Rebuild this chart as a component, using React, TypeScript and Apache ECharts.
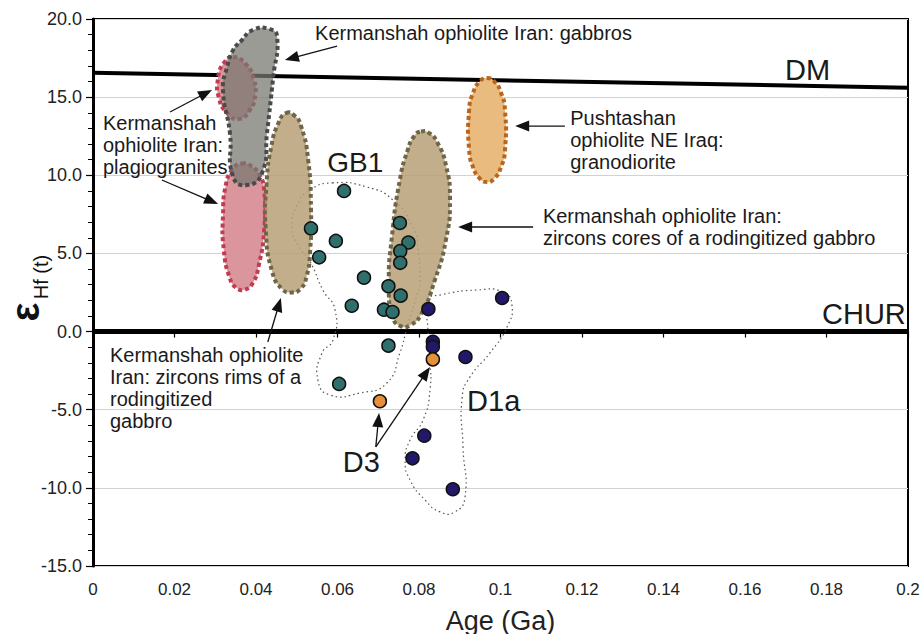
import React, { useEffect, useRef } from 'react';
import * as echarts from 'echarts';

// ---------- data (Age in Ga, epsilon Hf(t)) ----------
const gb1Points = [
  [0.0616, 9.0], [0.0535, 6.6], [0.0596, 5.8], [0.0555, 4.75], [0.0665, 3.45],
  [0.0635, 1.65], [0.0725, 2.9], [0.0753, 6.95], [0.0774, 5.7], [0.0754, 5.15],
  [0.0754, 4.4], [0.0755, 2.3], [0.0714, 1.4], [0.0735, 1.25], [0.0725, -0.9],
  [0.0604, -3.35],
];
const d1aPoints = [
  [0.0823, 1.44], [0.1004, 2.15], [0.0834, -0.65], [0.0834, -0.97], [0.0914, -1.63],
  [0.0813, -6.66], [0.0784, -8.11], [0.0883, -10.09],
];
const d3Points = [[0.0834, -1.78], [0.0704, -4.46]];

const dmLine = [[0, 16.56], [0.2, 15.6]];
const churLine = [[0, 0], [0.2, 0]];

const gb1Outline = [
  [0.0587, 9.51], [0.0672, 9.25], [0.0736, 8.42], [0.0785, 6.69], [0.0798, 5.22],
  [0.0802, 3.11], [0.0795, 2.34], [0.0771, 0.29], [0.0753, -1.37], [0.0721, -3.29],
  [0.0655, -3.93], [0.0582, -4.06], [0.0552, -3.1], [0.0562, -1.37], [0.0589, -0.54],
  [0.0594, 1.38], [0.0564, 2.66], [0.0533, 4.45], [0.0503, 5.54], [0.0488, 6.69],
  [0.0501, 8.1], [0.0533, 9.06],
];
const d1aOutline = [
  [0.0822, 2.02], [0.0852, 2.34], [0.0942, 2.66], [0.1006, 2.53], [0.1028, 1.7],
  [0.1016, 0.29], [0.0974, -1.37], [0.0925, -2.91], [0.0906, -4.19], [0.0908, -7.38],
  [0.0913, -10.58], [0.0888, -11.54], [0.0852, -11.54], [0.0815, -10.78], [0.0778, -9.5],
  [0.0766, -8.22], [0.0778, -6.94], [0.081, -5.66], [0.0827, -3.74], [0.0827, -1.82],
  [0.0822, 0.1],
];
const plagioUpper = [
  [0.0344, 17.57], [0.0375, 17.12], [0.0395, 16.1], [0.0398, 15.14], [0.0385, 14.18],
  [0.0358, 13.6], [0.0329, 13.99], [0.0309, 14.95], [0.0307, 16.22], [0.0321, 17.18],
];
const plagioLower = [
  [0.0365, 10.75], [0.0388, 10.6], [0.0408, 10.05], [0.042, 9.06], [0.042, 6.5],
  [0.0407, 4.26], [0.0392, 3.1], [0.0372, 2.68], [0.0352, 2.8], [0.0336, 3.4],
  [0.0321, 5.22], [0.0319, 7.46], [0.0326, 9.38], [0.0343, 10.4],
];
const gabbros = [
  [0.0361, 18.53], [0.0393, 19.3], [0.0434, 19.35], [0.0452, 18.85], [0.0442, 16.23],
  [0.0427, 12.71], [0.0415, 10.15], [0.0378, 9.38], [0.0344, 9.89], [0.0336, 12.71],
  [0.0319, 15.46], [0.0329, 16.93], [0.0344, 18.02],
];
const zirconRims = [
  [0.0474, 13.98], [0.0493, 13.85], [0.051, 13.2], [0.0528, 10.98], [0.0535, 7.78],
  [0.0533, 5.22], [0.0524, 3.5], [0.0508, 2.7], [0.0488, 2.5], [0.0465, 2.7],
  [0.044, 3.8], [0.0424, 6.5], [0.0426, 9.5], [0.0438, 11.9], [0.0456, 13.4],
];
const zirconCores = [
  [0.0805, 12.8], [0.0825, 12.7], [0.0845, 12.1], [0.0866, 10.66], [0.0876, 8.42],
  [0.0866, 5.86], [0.0839, 3.3], [0.0805, 1.1], [0.0778, 0.4], [0.0755, 0.35],
  [0.0736, 0.9], [0.0726, 2.98], [0.0734, 6.18], [0.0753, 9.7], [0.0772, 11.6],
  [0.0788, 12.5],
];
const granodiorite = [
  [0.0967, 16.22], [0.0985, 16.0], [0.1001, 15.3], [0.1011, 14.18], [0.1011, 11.62],
  [0.1001, 10.5], [0.0985, 9.8], [0.0967, 9.57], [0.0949, 9.8], [0.0933, 10.5],
  [0.0923, 11.62], [0.0923, 14.18], [0.0933, 15.3], [0.0949, 16.0],
];

// annotation texts: [text, x, y, fontSize, verticalAlign]
const annotations: [string, number, number, number, string][] = [
  ['Kermanshah ophiolite Iran: gabbros', 0.0545, 19.1, 20, 'middle'],
  ['Kermanshah\nophiolite Iran:\nplagiogranites', 0.00245, 14.05, 20, 'top'],
  ['GB1', 0.0575, 10.79, 28, 'middle'],
  ['Pushtashan\nophiolite NE Iraq:\ngranodiorite', 0.1171, 14.37, 20, 'top'],
  ['Kermanshah ophiolite Iran:\nzircons cores of a rodingitized gabbro', 0.1104, 8.1, 20, 'top'],
  ['DM', 0.1698, 16.74, 29, 'middle'],
  ['CHUR', 0.1789, 1.12, 29, 'middle'],
  ['Kermanshah ophiolite\nIran: zircons rims of a\nrodingitized\ngabbro', 0.00417, -0.79, 20, 'top'],
  ['D1a', 0.0918, -4.44, 29, 'middle'],
  ['D3', 0.0613, -8.34, 29, 'middle'],
];
// arrows: [tailX, tailY, tipX, tipY]
const arrows = [
  [0.0599, 18.27, 0.0471, 17.38],
  [0.0189, 14.05, 0.0292, 15.46],
  [0.0169, 9.7, 0.0307, 8.16],
  [0.1158, 13.15, 0.1036, 13.15],
  [0.108, 6.69, 0.0896, 6.69],
  [0.0429, -0.67, 0.0461, 2.15],
  [0.0694, -7.38, 0.0702, -5.21],
  [0.0694, -7.38, 0.0827, -2.27],
];

const FONT = '"Liberation Sans", Arial, Helvetica, sans-serif';

type Shape = { pts: number[][]; fill: string; stroke: string; lw: number; dash: number[] };

const outlineShapes: Shape[] = [
  { pts: gb1Outline, fill: 'none', stroke: '#555', lw: 1.2, dash: [1.5, 3] },
  { pts: d1aOutline, fill: 'none', stroke: '#555', lw: 1.2, dash: [1.5, 3] },
];
const blobShapes: Shape[] = [
  { pts: plagioUpper, fill: 'rgb(218,150,156)', stroke: '#c23b52', lw: 4, dash: [4, 3] },
  { pts: plagioLower, fill: 'rgb(218,150,156)', stroke: '#c23b52', lw: 4, dash: [4, 3] },
  { pts: gabbros, fill: 'rgba(120,120,114,0.74)', stroke: '#4a4a4a', lw: 4, dash: [4, 3] },
  { pts: zirconRims, fill: 'rgba(184,160,120,0.85)', stroke: '#6f6548', lw: 4, dash: [4, 3] },
  { pts: zirconCores, fill: 'rgba(184,160,120,0.85)', stroke: '#6f6548', lw: 4, dash: [4, 3] },
  { pts: granodiorite, fill: 'rgb(233,187,126)', stroke: '#b8661c', lw: 4, dash: [4, 3] },
];

function shapeSeries(shapes: Shape[], z: number) {
  return {
    type: 'custom',
    z,
    silent: true,
    clip: false,
    data: shapes.map((s) => [s.pts[0][0], s.pts[0][1]]),
    renderItem: (params: any, api: any) => {
      const s = shapes[params.dataIndex];
      const points = s.pts.map((p) => api.coord(p));
      return {
        type: 'polygon',
        shape: { points, smooth: 0.55 },
        style: { fill: s.fill, stroke: s.stroke, lineWidth: s.lw, lineDash: s.dash, lineCap: 'butt' },
      };
    },
  };
}

function scatterSeries(data: number[][], color: string) {
  return {
    type: 'scatter',
    z: 10,
    data,
    symbolSize: 13,
    itemStyle: { color, borderColor: '#111', borderWidth: 1.5, opacity: 1 },
  };
}

export default function App() {
  const ref = useRef<HTMLDivElement>(null);
  useEffect(() => {
    if (!ref.current) return;
    const chart = echarts.init(ref.current, null, { renderer: 'svg' });
    chart.setOption({
      animation: false,
      backgroundColor: '#fff',
      grid: {
        left: 93, right: 14, top: 19, bottom: 68, show: true, borderColor: '#000', borderWidth: 2,
        containLabel: false, outerBoundsMode: 'none',
      },
      xAxis: {
        type: 'value', min: 0, max: 0.2, interval: 0.02,
        axisLine: { lineStyle: { color: '#000', width: 2 } },
        axisTick: { length: 6, lineStyle: { color: '#000', width: 1.2 } },
        axisLabel: {
          fontSize: 17, color: '#222', fontFamily: FONT, margin: 15,
          formatter: (v: number) => (v === 0 ? '0' : String(parseFloat(v.toFixed(2)))),
        },
        splitLine: { show: false },
        name: 'Age (Ga)', nameLocation: 'middle', nameGap: 41,
        nameTextStyle: { fontSize: 27, color: '#222', fontFamily: FONT },
      },
      yAxis: {
        type: 'value', min: -15, max: 20, interval: 5,
        axisLine: { lineStyle: { color: '#000', width: 3 } },
        axisTick: { length: 7, lineStyle: { color: '#000', width: 1.2 } },
        minorTick: { show: true, splitNumber: 5, length: 5, lineStyle: { color: '#000', width: 1 } },
        axisLabel: {
          fontSize: 18, color: '#222', fontFamily: FONT, margin: 11,
          formatter: (v: number) => v.toFixed(1),
        },
        splitLine: { show: true, lineStyle: { color: '#d2d2d2', width: 1 } },
      },
      series: [
        { type: 'line', data: dmLine, z: 3, symbol: 'none', silent: true, lineStyle: { color: '#000', width: 4 } },
        { type: 'line', data: churLine, z: 3, symbol: 'none', silent: true, lineStyle: { color: '#000', width: 5 } },
        shapeSeries(outlineShapes, 4),
        shapeSeries(blobShapes, 5),
        scatterSeries(gb1Points, '#2f706c'),
        scatterSeries(d1aPoints, '#22186a'),
        scatterSeries(d3Points, '#e4913a'),
      ],
    });

    const px = (x: number, y: number) => chart.convertToPixel({ gridIndex: 0 }, [x, y]) as number[];
    const graphic: any[] = [];
    annotations.forEach(([text, x, y, fs, va]) => {
      const p = px(x, y);
      graphic.push({
        type: 'text', x: p[0], y: p[1], z: 20, silent: true,
        style: {
          text, fontSize: fs, fontFamily: FONT, fill: '#1a1a1a',
          align: 'left', verticalAlign: va, lineHeight: 22,
        },
      });
    });
    arrows.forEach(([x1, y1, x2, y2]) => {
      const a = px(x1, y1);
      const b = px(x2, y2);
      const dx = b[0] - a[0];
      const dy = b[1] - a[1];
      const len = Math.hypot(dx, dy);
      const ux = dx / len;
      const uy = dy / len;
      const hl = 14;
      const hw = 5.5;
      const base = [b[0] - ux * hl, b[1] - uy * hl];
      graphic.push({
        type: 'line', z: 20, silent: true,
        shape: { x1: a[0], y1: a[1], x2: base[0] + ux * 2, y2: base[1] + uy * 2 },
        style: { stroke: '#111', lineWidth: 1.3 },
      });
      graphic.push({
        type: 'polygon', z: 20, silent: true,
        shape: {
          points: [
            [b[0], b[1]],
            [base[0] - uy * hw, base[1] + ux * hw],
            [base[0] + uy * hw, base[1] - ux * hw],
          ],
        },
        style: { fill: '#111' },
      });
    });
    // y-axis title: epsilon Hf(t)
    graphic.push({
      type: 'text', x: 25, y: 312, rotation: Math.PI / 2, z: 20, silent: true,
      style: { text: 'ε', fontSize: 40, fontWeight: 'bold', fontFamily: FONT, fill: '#111', align: 'center', verticalAlign: 'middle' },
    });
    graphic.push({
      type: 'text', x: 41, y: 277, rotation: Math.PI / 2, z: 20, silent: true,
      style: { text: 'Hf (t)', fontSize: 20, fontFamily: FONT, fill: '#111', align: 'center', verticalAlign: 'middle' },
    });
    chart.setOption({ graphic });

    return () => chart.dispose();
  }, []);
  return <div ref={ref} style={{ position: 'fixed', left: 0, top: 0, width: 922, height: 634, background: '#fff' }} />;
}
